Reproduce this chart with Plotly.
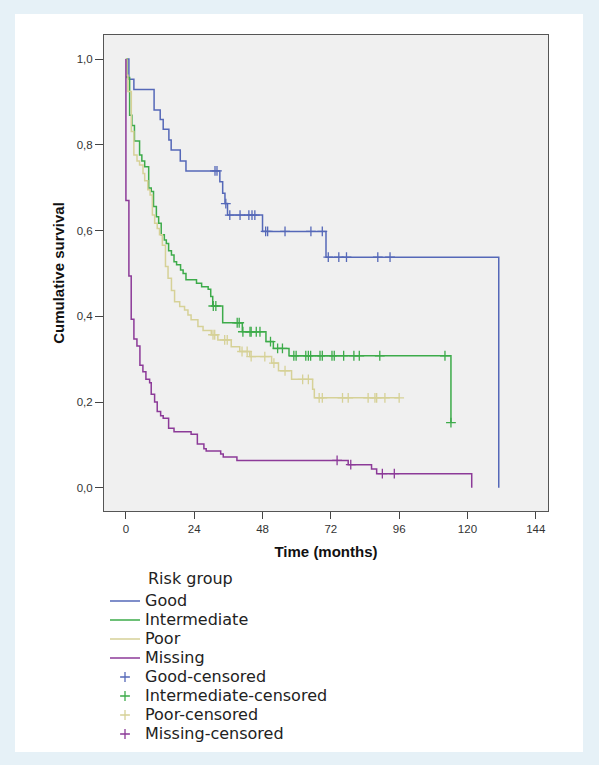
import plotly.graph_objects as go

# ---------------- data ----------------
month_ticks = [0, 24, 48, 72, 96, 120, 144]
surv_ticks = [0.0, 0.2, 0.4, 0.6, 0.8, 1.0]

groups = ["Good", "Intermediate", "Poor", "Missing"]

good_time = [0, 1.05, 2.8, 9.9, 12.05, 13.1, 15.1, 15.9, 19.1, 21.1, 33.0, 34.0, 34.8, 35.7, 48.0, 70.3, 131.0]
good_surv = [1.0, 0.953, 0.929, 0.881, 0.859, 0.836, 0.811, 0.788, 0.762, 0.739, 0.714, 0.687, 0.663, 0.636, 0.598, 0.538, 0.0]
good_cens = [31.3, 32.0, 35.1, 36.5, 40.1, 43.2, 44.3, 45.3, 49.1, 49.8, 55.9, 65.0, 69.0, 71.1, 74.8, 77.5, 88.5, 92.8]

inter_time = [0, 0.35, 1.3, 2.1, 3.0, 4.8, 5.6, 6.6, 8.0, 8.9, 9.7, 10.7, 11.5, 12.4, 13.5, 14.2, 15.0, 16.0, 16.9,
              17.8, 19.2, 20.1, 21.1, 24.8, 26.6, 28.9, 29.8, 30.5, 34.0, 40.9, 49.2, 51.8, 57.3, 114.2]
inter_surv = [1.0, 0.957, 0.869, 0.845, 0.809, 0.776, 0.762, 0.749, 0.699, 0.691, 0.656, 0.632, 0.617, 0.590, 0.578,
              0.570, 0.553, 0.543, 0.527, 0.520, 0.508, 0.500, 0.485, 0.477, 0.469, 0.463, 0.446, 0.424, 0.385, 0.364,
              0.341, 0.325, 0.308, 0.152]
inter_cens = [30.7, 31.6, 39.1, 39.8, 41.1, 43.6, 44.0, 45.8, 47.1, 50.8, 53.3, 55.0, 59.0, 59.8, 63.2, 64.1, 64.9,
              68.2, 69.0, 72.4, 73.2, 76.5, 80.1, 82.0, 89.2, 112.1, 114.2]

poor_time = [0, 0.3, 0.7, 1.9, 2.8, 3.9, 4.8, 6.0, 6.6, 7.7, 8.5, 9.3, 10.1, 11.0, 11.8, 12.8, 13.9, 14.8, 16.0, 17.1,
             18.9, 20.6, 21.8, 22.9, 25.3, 27.1, 30.0, 32.3, 37.0, 40.0, 43.5, 51.2, 53.6, 58.2, 65.6, 66.2]
poor_surv = [1.0, 0.962, 0.924, 0.831, 0.776, 0.762, 0.753, 0.733, 0.716, 0.695, 0.683, 0.636, 0.617, 0.605, 0.590,
             0.566, 0.516, 0.489, 0.460, 0.434, 0.423, 0.415, 0.403, 0.392, 0.376, 0.367, 0.357, 0.345, 0.329, 0.318,
             0.306, 0.291, 0.273, 0.253, 0.230, 0.210]
poor_cens = [30.6, 31.2, 34.7, 35.6, 40.8, 42.6, 44.0, 48.8, 52.0, 55.9, 62.1, 64.1, 67.9, 69.0, 76.1, 78.1, 85.1,
             87.5, 88.1, 91.0, 96.0]

miss_time = [0, 0, 1.05, 1.86, 2.81, 3.87, 4.92, 5.97, 7.03, 8.33, 8.89, 10.08, 11.0, 12.2, 13.1, 15.0, 16.9, 22.9,
             25.1, 27.4, 28.2, 33.3, 34.2, 39.0, 78.1, 86.3, 88.1, 121.5]
miss_surv = [1.0, 0.67, 0.494, 0.393, 0.347, 0.331, 0.286, 0.271, 0.253, 0.245, 0.218, 0.200, 0.178, 0.168, 0.162,
             0.139, 0.131, 0.125, 0.102, 0.091, 0.086, 0.079, 0.072, 0.064, 0.054, 0.044, 0.033, 0.0]
miss_cens = [74.2, 79.0, 90.1, 94.3]

colors = ["#5568b8", "#3dab4a", "#d6d197", "#8c3a98"]

series = [
    (good_time, good_surv, good_cens),
    (inter_time, inter_surv, inter_cens),
    (poor_time, poor_surv, poor_cens),
    (miss_time, miss_surv, miss_cens),
]


def surv_at(times, survs, t):
    s = survs[0]
    for ti, si in zip(times, survs):
        if ti <= t:
            s = si
        else:
            break
    return s


LEG = '<span style="font-size:16px">%s</span>'
FONT = "Liberation Sans, Arial, sans-serif"
LEGFONT = "DejaVu Sans"

fig = go.Figure()

# step lines
for name, col, (t, s, c) in zip(groups, colors, series):
    xs = list(t)
    ys = list(s)
    if c and max(c) > xs[-1]:
        xs.append(max(c))
        ys.append(ys[-1])
    fig.add_trace(go.Scatter(x=xs, y=ys, mode="lines", line=dict(shape="hv", color=col, width=1.5),
                             name=LEG % name, hoverinfo="skip"))

# censored marks
for name, col, (t, s, c) in zip(groups, colors, series):
    fig.add_trace(go.Scatter(x=c, y=[surv_at(t, s, ci) for ci in c], mode="markers",
                             marker=dict(symbol="cross-thin", size=7, line=dict(color=col, width=1.3)),
                             name=LEG % (name + "-censored"), hoverinfo="skip"))

W, H = 599, 765
L, R, T, B = 104, 548, 35, 511
pw, ph = R - L, B - T


def px(x):
    return (x - L) / pw


def py(y):
    return (B - y) / ph


BG = "#e6f1f7"
shapes = [
    dict(type="rect", xref="paper", yref="paper", x0=px(15), x1=px(583), y0=py(752), y1=py(14),
         fillcolor="white", line=dict(width=0), layer="below"),
    dict(type="rect", xref="paper", yref="paper", x0=0, x1=1, y0=0, y1=1,
         fillcolor="#f0f0f0", line=dict(width=0), layer="below"),
]

fig.update_layout(
    width=W, height=H,
    margin=dict(l=L, r=W - R, t=T, b=H - B, autoexpand=False),
    paper_bgcolor=BG,
    plot_bgcolor="rgba(0,0,0,0)",
    separators=",.",
    shapes=shapes,
    showlegend=True,
    legend=dict(x=px(105), y=py(586.5), xanchor="left", yanchor="top", bgcolor="rgba(0,0,0,0)",
                font=dict(family=LEGFONT, size=12.3, color="#222"), tracegroupgap=0, itemwidth=30),
    annotations=[dict(text="Risk group", xref="paper", yref="paper", x=px(146), y=py(578), xanchor="left",
                      yanchor="middle", showarrow=False, font=dict(family=LEGFONT, size=16, color="#222"))],
    xaxis=dict(range=[-7.7, 148.3], tickvals=month_ticks, ticks="outside", ticklen=7, tickcolor="#444",
               showgrid=False, zeroline=False, showline=True, linecolor="#555", linewidth=1, mirror=True,
               tickfont=dict(family=FONT, size=11.5, color="#333"),
               title=dict(text="<b>Time (months)</b>", font=dict(family=FONT, size=15, color="#111"), standoff=12)),
    yaxis=dict(range=[-0.054, 1.056], tickvals=surv_ticks, tickformat=".1f", ticks="outside", ticklen=8,
               tickcolor="#444", showgrid=False, zeroline=False, showline=True, linecolor="#555", linewidth=1,
               mirror=True, tickfont=dict(family=FONT, size=11.5, color="#333"),
               title=dict(text="<b>Cumulative survival</b>", font=dict(family=FONT, size=15, color="#111"),
                          standoff=8)),
)

fig.write_html("out.html", config={"displayModeBar": False},
               post_script="document.body.style.margin='0';document.body.style.background='%s';" % BG)
